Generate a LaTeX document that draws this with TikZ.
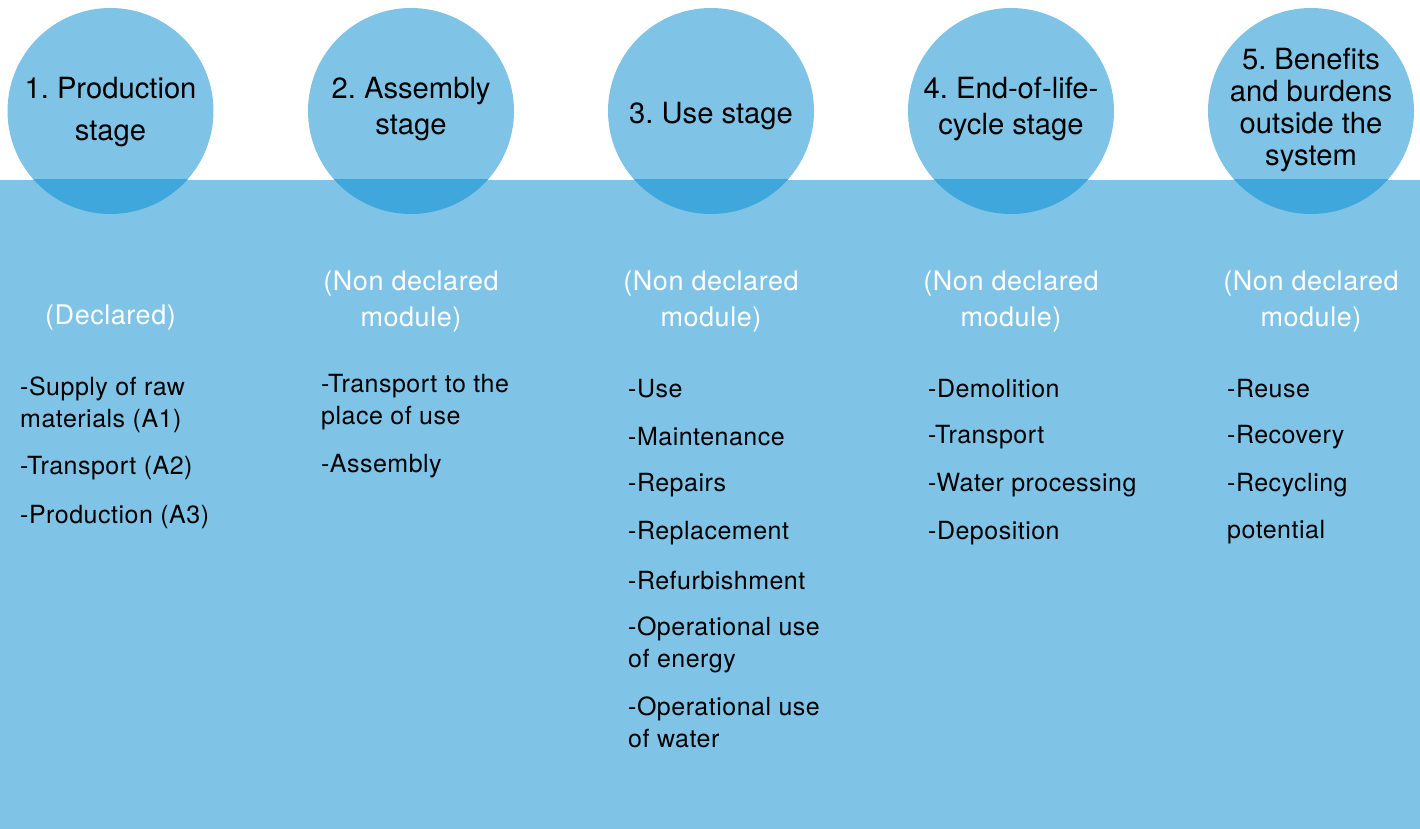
\documentclass[tikz,border=0pt]{standalone}
\usepackage{fontspec}
\setmainfont{TeX Gyre Heros}
\newfontfamily\spacedfont[LetterSpace=2]{TeX Gyre Heros}
\definecolor{stageBlue}{HTML}{7FC3E6}
\definecolor{overlapBlue}{HTML}{40A7DC}
\frenchspacing

\begin{document}
\begin{tikzpicture}
[x=1pt,y=-1pt,
  circleDecorate/.style={shape=circle,inner sep=0pt,minimum size=206pt,fill=stageBlue},%
  titleDecorate/.style={align=center,font=\fontsize{29.2}{#1}\selectfont},%
  titleDecorate/.default=36,
  moduleDecorate/.style={align=center,text=white,font=\spacedfont\fontsize{27}{36}\selectfont},%
  itemDecorate/.style={anchor=west,align=left,inner sep=0pt,font=\spacedfont\fontsize{25}{32}\selectfont}]
\useasboundingbox (0,0) rectangle (1420,829);
%% band
\fill[stageBlue] (0,180) rectangle (1420,829);
%% stage circles
\foreach \nodename/\x in {c1/110.5, c2/411, c3/711, c4/1011, c5/1311}
{
  \node (\nodename) at (\x,111) [circleDecorate] {};
}
\begin{scope}
\clip (0,180) rectangle (1420,829);
\foreach \nodename in {c1,c2,c3,c4,c5}
  \fill[overlapBlue] (\nodename) circle (103);
\end{scope}
%% titles
\node (t1) at (110.5,112) [titleDecorate=42] {1. Production\\stage};
\node (t2) at (411,109) [titleDecorate] {2. Assembly\\stage};
\node (t3) at (711,116) [titleDecorate] {3. Use stage};
\node (t4) at (1011,109) [titleDecorate] {4. End-of-life-\\cycle stage};
\node (t5) at (1311,110) [titleDecorate=32] {5. Benefits\\and burdens\\outside the\\system};
%% modules
\node (m1) at (110.5,318) [moduleDecorate] {(Declared)};
\foreach \nodename/\x in {m2/411, m3/711, m4/1011, m5/1311}
{
  \node (\nodename) at (\x,302) [moduleDecorate] {(Non declared\\module)};
}
%% items
\foreach \nodename/\x/\y/\txt in {
  a1/20/405/{-Supply of raw\\materials (A1)}, a2/20/468/-Transport (A2),
  a3/20/517/-Production (A3),
  b1/321/402/{-Transport to the\\place of use}, b2/321/466/-Assembly,
  u1/628/389/-Use, u2/628/437/-Maintenance, u3/628/485/-Repairs,
  u4/628/533/-Replacement, u5/628/581/-Refurbishment,
  u6/628/645/{-Operational use\\of energy}, u7/628/722/{-Operational use\\of water},
  e1/928/389/-Demolition, e2/928/437/-Transport, e3/928/485/-Water processing,
  e4/928/533/-Deposition,
  r1/1227/389/-Reuse, r2/1227/437/-Recovery, r3/1227/485/-Recycling,
  r4/1227/532/potential}
{
  \node (\nodename) at (\x,\y) [itemDecorate] {\txt};
}
\end{tikzpicture}
\end{document}
